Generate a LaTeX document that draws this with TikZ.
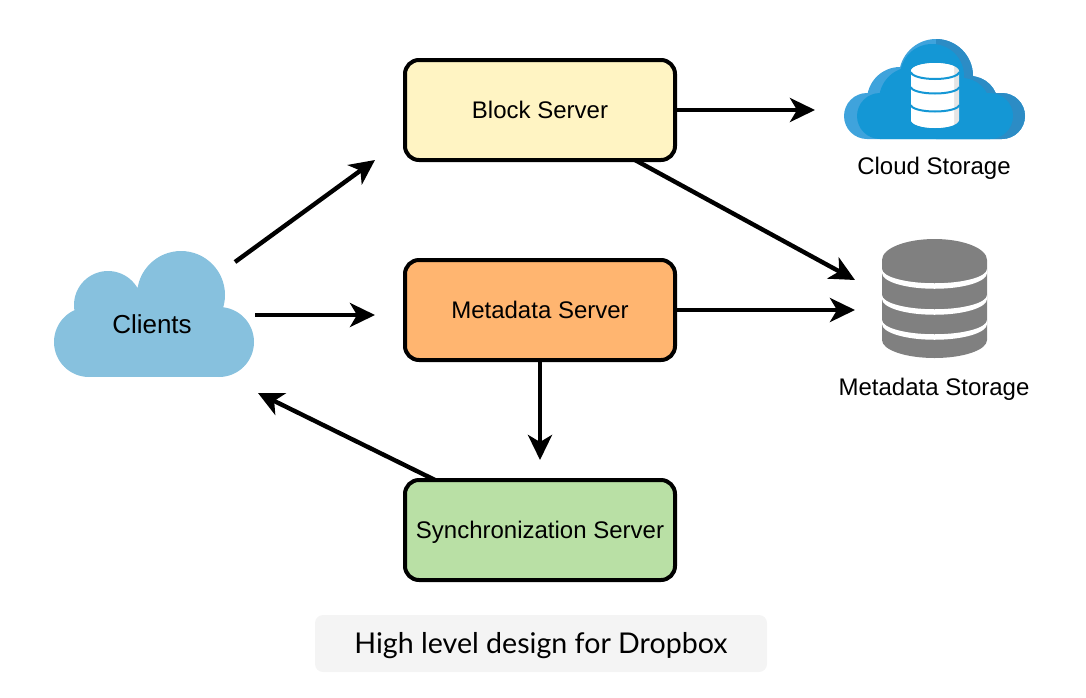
\documentclass[tikz,border=0pt]{standalone}
\usepackage{fontspec}
\setmainfont{Liberation Sans}
\newfontfamily\captionfont{Lato}
\usetikzlibrary{arrows.meta,positioning}

\definecolor{blockfill}{HTML}{FFF4C3}
\definecolor{metafill}{HTML}{FFB570}
\definecolor{syncfill}{HTML}{B9E0A5}
\definecolor{clientblue}{HTML}{87C1DE}
\definecolor{cloudmain}{HTML}{1497D5}
\definecolor{cloudlight}{HTML}{3FA3DC}
\definecolor{clouddark}{HTML}{2C8CC5}
\definecolor{dbgray}{HTML}{808080}
\definecolor{captionfill}{HTML}{F4F4F4}

\tikzset{
  label/.style={font=\fontsize{24}{28}\selectfont,text height=17.5pt,text depth=0pt},
  server/.style={label,draw,line width=4pt,rounded corners=14pt,minimum width=270pt,
    minimum height=100pt},
  flow/.style={->,line width=4.4pt},
  band/.style={cloudmain,line width=2pt},
}
\newcommand{\storagecloud}{(867,116) circle [radius=23] (1002,116) circle [radius=23]
  (936,76) circle [radius=37] (900,100) circle [radius=33] (970,104) circle [radius=28]
  (867,93) -- (1002,93) -- (1002,139) -- (867,139) -- cycle}
\newcommand{\drumbody}{(911,71) -- (911,120) arc [start angle=180,end angle=0,x radius=24,y radius=8]
  -- (959,71) arc [start angle=0,end angle=-180,x radius=24,y radius=8] -- cycle}

\begin{document}
\begin{tikzpicture}[x=1pt,y=-1pt,on grid,>={Stealth[length=25pt,width=24pt,inset=7pt]}]
  \useasboundingbox (0,0) rectangle (1086,697);

  % clients cloud
  \fill[clientblue] (108,305) circle [radius=34] (181,295) circle [radius=44]
    (89,342) circle [radius=35] (219,342) circle [radius=35];
  \fill[clientblue] (89,312) rectangle (219,377);

  % servers
  \node[server,fill=blockfill] (block) at (540,110) {Block Server};
  \node[server,fill=metafill] (meta) [below=200pt of block] {Metadata Server};
  \node[server,fill=syncfill] (sync) [below=220pt of meta] {Synchronization Server};
  \node[label,font=\fontsize{26}{30}\selectfont,text height=19pt] (clients) at (152,324) {Clients};

  % cloud storage
  \fill[cloudlight] \storagecloud;
  \begin{scope}
    \clip \storagecloud;
    \fill[clouddark] (936,30) rectangle (1030,145);
    \fill[cloudmain] (880,116) circle [radius=23] (990,116) circle [radius=23]
      (932,76) circle [radius=32] (912,100) circle [radius=33] (962,106) circle [radius=28];
    \fill[cloudmain] (880,93) rectangle (990,145);
  \end{scope}
  \fill[white!90!black] \drumbody;
  \begin{scope}
    \clip (905,50) rectangle (954,135);
    \fill[white] \drumbody;
  \end{scope}
  \draw[band] (911,72) arc [start angle=180,end angle=0,x radius=24,y radius=7];
  \draw[band] (911,87) arc [start angle=180,end angle=0,x radius=24,y radius=6.5];
  \draw[band] (911,105) arc [start angle=180,end angle=0,x radius=24,y radius=6.5];
  \node[label] (cloudstore) at (934,166) {Cloud Storage};

  % metadata storage
  \fill[dbgray] (882,260) -- (882,340) arc [start angle=180,end angle=0,x radius=52.5,y radius=18]
    -- (987,260) arc [start angle=0,end angle=-180,x radius=52.5,y radius=21] -- cycle;
  \foreach \y in {271,297,322}
    \fill[white] (882,{\y-2}) -- (882,{\y+2}) arc [start angle=180,end angle=0,x radius=52.5,y radius=15.75]
      -- (987,{\y-2}) arc [start angle=0,end angle=180,x radius=52.5,y radius=14.25] -- cycle;
  \node[label] (metastore) at (934,386.5) {Metadata Storage};

  % free ends of the connectors
  \coordinate (clientsup) at (235,262);
  \coordinate (clientsright) at (255,315);
  \coordinate (blockin) at (375,160);
  \coordinate (metain) at (375,315);
  \coordinate (blockdown) at (635,160);
  \coordinate (cloudin) at (815,110);
  \coordinate (dbup) at (855,280);
  \coordinate (dbin) at (855,310);
  \coordinate (syncout) at (435,480);
  \coordinate (clientsin) at (258,393);

  \path[flow]
    (clientsup) edge (blockin)
    (clientsright) edge (metain)
    (block) edge (cloudin)
    (blockdown) edge (dbup)
    (meta) edge (dbin)
    (meta) edge [shorten >=18pt] (sync)
    (syncout) edge (clientsin);

  % caption
  \node[fill=captionfill,rounded corners=8pt,minimum width=452pt,minimum height=57pt,
    text height=20pt,text depth=0pt,font=\captionfont\fontsize{28.6}{32}\selectfont] (caption)
    at (541,643.5) {High level design for Dropbox};
\end{tikzpicture}
\end{document}
